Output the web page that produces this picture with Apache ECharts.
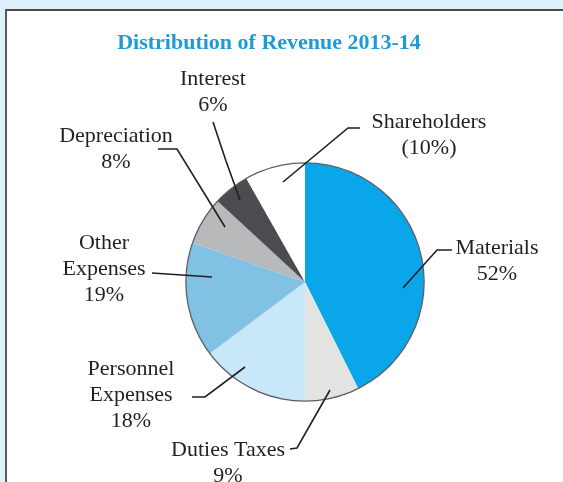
<!DOCTYPE html>
<html>
<head>
<meta charset="utf-8">
<script src="https://cdn.jsdelivr.net/npm/echarts@6/dist/echarts.min.js"></script>
<style>
    html, body { margin: 0; padding: 0; }
    #wrap { position: relative; width: 563px; height: 482px; background: #dff1fb; overflow: hidden; }
    #panel {
        position: absolute; left: 5px; top: 9px; width: 558px; height: 473px;
        background: #fff; box-sizing: border-box;
        border-left: 2px solid #5c5c5c; border-top: 2px solid #4a4a4a;
    }
    #main { position: absolute; left: 0; top: 0; width: 563px; height: 482px; }
</style>
</head>
<body>
<div id="wrap">
    <div id="panel"></div>
    <div id="main"></div>
</div>
<script>
// data
const categories = ["Materials", "Duties Taxes", "Personnel\nExpenses", "Other\nExpenses", "Depreciation", "Interest", "Shareholders"];
const shares = [52, 9, 18, 19, 8, 6, 10];
const sliceColors = ["#0aa6ea", "#e3e3e3", "#c8e7f9", "#80c1e4", "#b8b9bb", "#4a4c4f", "#ffffff"];

// label block centres and leader lines (page px)
const labelPos = [[497, 261], [228, 463], [131, 395], [104, 269], [116, 149], [213, 92], [429, 135]];
const guides = [
    [[452, 250], [437, 250], [403, 288]],
    [[290, 449], [297, 448], [330, 390]],
    [[192, 397], [205, 397], [245, 367]],
    [[152, 273], [182, 275], [212, 277]],
    [[158, 149], [177, 149], [225, 227]],
    [[213, 122], [226, 161], [240, 200]],
    [[360, 128], [348, 128], [283, 182]]
];

const chart = echarts.init(document.getElementById("main"));
const center = [305, 282];
const R = 119;

chart.setOption({
    animation: false,
    backgroundColor: "transparent",
    title: {
        text: "Distribution of Revenue 2013-14",
        left: 264,
        top: 38,
        textAlign: "center",
        textVerticalAlign: "middle",
        textStyle: { fontFamily: "Liberation Serif", fontSize: 22, fontWeight: "bold", color: "#1c9bd8" }
    },
    series: [
        {
            // coloured slices
            type: "pie",
            z: 1,
            center: center,
            radius: R,
            startAngle: 90,
            clockwise: true,
            silent: true,
            itemStyle: { borderWidth: 0 },
            label: { show: false },
            labelLine: { show: false },
            data: categories.map((c, i) => ({ name: c, value: shares[i], itemStyle: { color: sliceColors[i] } }))
        },
        {
            // thin outline round the pie
            type: "pie",
            z: 2,
            center: center,
            radius: [R - 0.5, R + 0.8],
            silent: true,
            label: { show: false },
            labelLine: { show: false },
            itemStyle: { color: "#5a5f66", borderWidth: 0 },
            data: [{ value: 1, name: "outline" }]
        },
        {
            // same pie, transparent, carries the labels so the leader lines sit on top
            type: "pie",
            z: 10,
            center: center,
            radius: R,
            startAngle: 90,
            clockwise: true,
            silent: true,
            avoidLabelOverlap: false,
            itemStyle: { color: "rgba(0,0,0,0)", borderWidth: 0 },
            label: {
                show: true,
                position: "outside",
                fontFamily: "Liberation Serif",
                fontSize: 22,
                lineHeight: 26,
                color: "#231f20",
                align: "center",
                formatter: (p) => p.name + "\n" + (p.name === "Shareholders" ? "(" + p.value + "%)" : p.value + "%")
            },
            labelLine: { show: true, lineStyle: { color: "#231f20", width: 1.6 } },
            labelLayout: (p) => ({
                x: labelPos[p.dataIndex][0],
                y: labelPos[p.dataIndex][1],
                align: "center",
                verticalAlign: "middle",
                labelLinePoints: guides[p.dataIndex]
            }),
            data: categories.map((c, i) => ({ name: c, value: shares[i] }))
        }
    ]
});
</script>
</body>
</html>
